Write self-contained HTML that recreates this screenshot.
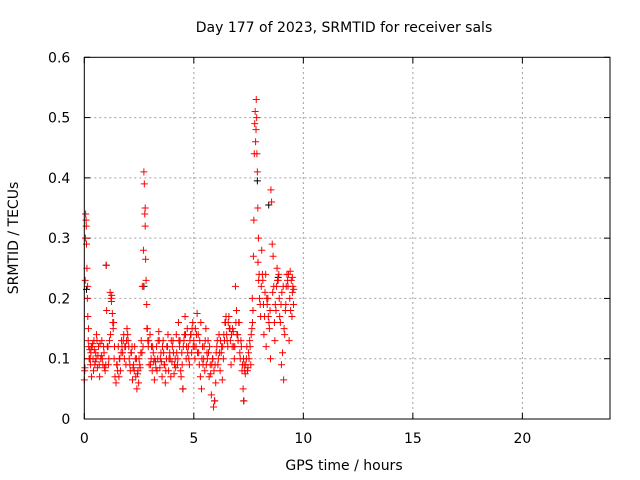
<!DOCTYPE html>
<html><head><meta charset="utf-8"><style>
html,body{margin:0;padding:0;background:#fff;}
svg{display:block;font-family:"DejaVu Sans","Liberation Sans",sans-serif;}
</style></head><body>
<svg id="chart" width="640" height="480">
<rect x="0" y="0" width="640" height="480" fill="#fff"/>
<text x="344" y="32" font-size="14" text-anchor="middle">Day 177 of 2023, SRMTID for receiver sals</text>
<text x="344" y="470" font-size="14" text-anchor="middle">GPS time / hours</text>
<text x="0" y="0" font-size="14" text-anchor="middle" transform="translate(18,238) rotate(-90)">SRMTID / TECUs</text>
<g id="grid"></g>
<g id="ticks"></g>
<g id="black"></g>
<g id="red"></g>
<rect x="84.3" y="57.3" width="525.7" height="361.7" fill="none" stroke="#000" stroke-width="1"/>
</svg>
<script>
const xTicks=[0,5,10,15,20];
const yTicks=[0,0.1,0.2,0.3,0.4,0.5,0.6];
const yTickLabels=["0","0.1","0.2","0.3","0.4","0.5","0.6"];
const redHours=[0.00,0.02,0.04,0.06,0.08,0.10,0.12,0.14,0.16,0.18,0.20,0.22,0.25,0.28,0.30,0.33,0.36,0.40,0.44,0.48,0.52,0.56,0.60,0.65,0.70,0.75,0.80,0.85,0.90,0.95,1.00,1.02,1.05,1.10,1.15,1.18,1.22,1.25,1.28,1.32,1.36,1.40,1.45,1.50,1.55,1.60,1.65,1.70,1.75,1.80,1.85,1.90,1.95,2.00,2.05,2.10,2.15,2.20,2.25,2.30,2.35,2.40,2.45,2.50,2.55,2.60,2.65,2.70,2.72,2.74,2.76,2.78,2.80,2.82,2.85,2.88,2.92,2.96,3.00,3.05,3.10,3.15,3.20,3.25,3.30,3.35,3.40,3.45,3.50,3.55,3.60,3.65,3.70,3.75,3.80,3.85,3.90,3.95,4.00,4.05,4.10,4.15,4.20,4.25,4.30,4.35,4.40,4.45,4.50,4.55,4.60,4.65,4.70,4.75,4.80,4.85,4.90,4.95,5.00,5.05,5.10,5.15,5.20,5.25,5.30,5.35,5.40,5.45,5.50,5.55,5.60,5.65,5.70,5.75,5.80,5.85,5.90,5.95,6.00,6.05,6.10,6.15,6.20,6.25,6.30,6.35,6.40,6.45,6.50,6.55,6.60,6.65,6.70,6.75,6.80,6.85,6.90,6.95,7.00,7.05,7.10,7.15,7.20,7.25,7.28,7.30,7.35,7.40,7.45,7.50,7.55,7.60,7.65,7.70,7.72,7.74,7.76,7.78,7.80,7.82,7.85,7.87,7.90,7.92,7.95,7.98,8.00,8.05,8.10,8.15,8.20,8.25,8.30,8.35,8.40,8.45,8.50,8.52,8.55,8.58,8.62,8.65,8.70,8.75,8.80,8.85,8.90,8.95,9.00,9.05,9.10,9.15,9.20,9.25,9.30,9.35,9.40,9.45,9.50,9.55];
const redValues=[0.065,0.08,0.23,0.34,0.33,0.29,0.25,0.20,0.17,0.13,0.12,0.10,0.115,0.09,0.11,0.07,0.12,0.10,0.13,0.09,0.11,0.14,0.085,0.12,0.07,0.10,0.13,0.09,0.11,0.08,0.255,0.18,0.12,0.09,0.13,0.21,0.20,0.205,0.175,0.15,0.10,0.07,0.06,0.09,0.12,0.10,0.08,0.13,0.11,0.14,0.12,0.09,0.15,0.13,0.10,0.08,0.11,0.065,0.09,0.12,0.07,0.05,0.08,0.10,0.085,0.13,0.22,0.28,0.41,0.39,0.34,0.32,0.265,0.23,0.19,0.15,0.12,0.09,0.14,0.10,0.08,0.11,0.065,0.095,0.12,0.10,0.145,0.085,0.11,0.07,0.13,0.09,0.06,0.10,0.12,0.08,0.11,0.07,0.095,0.13,0.075,0.10,0.14,0.09,0.16,0.12,0.08,0.11,0.05,0.13,0.17,0.10,0.15,0.12,0.09,0.14,0.11,0.16,0.13,0.10,0.12,0.175,0.14,0.09,0.07,0.05,0.12,0.10,0.08,0.15,0.11,0.13,0.07,0.09,0.04,0.10,0.02,0.03,0.06,0.12,0.09,0.14,0.08,0.11,0.065,0.10,0.13,0.16,0.14,0.12,0.17,0.15,0.09,0.12,0.145,0.10,0.22,0.18,0.14,0.16,0.11,0.13,0.08,0.05,0.03,0.09,0.075,0.10,0.08,0.11,0.13,0.09,0.15,0.18,0.27,0.33,0.44,0.49,0.51,0.46,0.53,0.50,0.41,0.35,0.30,0.24,0.20,0.17,0.28,0.23,0.14,0.21,0.12,0.19,0.17,0.15,0.10,0.38,0.36,0.29,0.27,0.22,0.13,0.18,0.25,0.23,0.20,0.16,0.09,0.11,0.065,0.14,0.19,0.24,0.22,0.13,0.245,0.23,0.21,0.19];
const redHours2=[0.05,0.15,0.27,0.38,0.50,0.62,0.72,0.82,0.92,1.08,1.20,1.34,1.48,1.58,1.68,1.78,1.88,1.98,2.08,2.18,2.28,2.38,2.48,2.58,2.68,2.90,3.02,3.12,3.22,3.32,3.42,3.52,3.62,3.72,3.82,3.92,4.02,4.12,4.22,4.32,4.42,4.52,4.62,4.72,4.82,4.92,5.02,5.12,5.22,5.32,5.42,5.52,5.62,5.72,5.82,5.92,6.02,6.12,6.22,6.32,6.42,6.52,6.62,6.72,6.82,6.92,7.02,7.12,7.22,7.32,7.42,7.52,7.62,7.68,7.88,7.96,8.08,8.18,8.28,8.38,8.48,8.68,8.78,8.88,8.98,9.08,9.18,9.28,9.38,9.48,9.52];
const redValues2=[0.30,0.22,0.10,0.125,0.095,0.105,0.125,0.10,0.085,0.12,0.14,0.16,0.09,0.07,0.11,0.13,0.12,0.14,0.09,0.12,0.08,0.10,0.06,0.11,0.12,0.13,0.09,0.12,0.10,0.08,0.13,0.095,0.11,0.08,0.14,0.10,0.12,0.09,0.11,0.13,0.07,0.12,0.14,0.11,0.13,0.15,0.12,0.14,0.11,0.16,0.09,0.13,0.10,0.12,0.09,0.08,0.11,0.10,0.13,0.12,0.16,0.13,0.15,0.14,0.12,0.16,0.13,0.10,0.09,0.08,0.12,0.10,0.14,0.16,0.44,0.23,0.22,0.19,0.24,0.20,0.18,0.16,0.22,0.24,0.19,0.22,0.18,0.23,0.20,0.17,0.22,0.20];
const redHours3=[0.03,0.09,0.19,0.24,0.32,0.42,0.46,0.54,0.58,0.68,0.78,0.88,0.98,1.12,1.24,1.30,1.38,1.52,1.62,1.72,1.83,1.93,2.03,2.13,2.23,2.33,2.43,2.53,2.63,2.78,2.86,2.94,3.07,3.17,3.27,3.37,3.47,3.57,3.67,3.77,3.87,3.97,4.07,4.17,4.27,4.37,4.47,4.57,4.67,4.77,4.87,4.97,5.07,5.17,5.27,5.37,5.47,5.57,5.67,5.77,5.87,5.97,6.07,6.17,6.27,6.37,6.47,6.57,6.67,6.77,6.87,6.97,7.07,7.17,7.27,7.37,7.47,7.57,7.67,7.84,7.93,8.03,8.13,8.23,8.33,8.43,8.60,8.72,8.82,8.92,9.02,9.12,9.22,9.32,9.42,9.50,9.56];
const redValues3=[0.085,0.32,0.15,0.10,0.12,0.08,0.115,0.10,0.13,0.09,0.105,0.12,0.09,0.10,0.195,0.16,0.12,0.08,0.10,0.12,0.10,0.13,0.12,0.11,0.085,0.10,0.075,0.09,0.11,0.35,0.15,0.13,0.12,0.095,0.085,0.13,0.10,0.12,0.09,0.12,0.10,0.13,0.11,0.085,0.10,0.13,0.09,0.14,0.12,0.10,0.14,0.12,0.15,0.11,0.13,0.10,0.12,0.09,0.11,0.075,0.10,0.09,0.13,0.11,0.12,0.14,0.17,0.16,0.13,0.15,0.12,0.14,0.16,0.12,0.10,0.09,0.085,0.12,0.20,0.48,0.26,0.19,0.24,0.17,0.20,0.16,0.21,0.19,0.23,0.17,0.21,0.15,0.22,0.24,0.18,0.235,0.215];
const blackHours=[0.10,1.00,2.72,5.95,7.90,8.42,8.85,7.28,4.50];
const blackValues=[0.215,0.255,0.22,0.03,0.395,0.355,0.235,0.03,0.05];

const X0=84.3,X1=610,Y0=419,Y1=57.3,XMAX=24,YMAX=0.6;
function xs(h){return X0+(X1-X0)*h/XMAX;}
function ys(v){return Y0-(Y0-Y1)*v/YMAX;}
const NS="http://www.w3.org/2000/svg";
function mk(tag,attrs,parent){const e=document.createElementNS(NS,tag);for(const k in attrs)e.setAttribute(k,attrs[k]);parent.appendChild(e);return e;}
const grid=document.getElementById('grid'),ticks=document.getElementById('ticks');
xTicks.forEach((t,i)=>{
  const x=xs(t);
  if(t>0){const g=mk('line',{x1:x,x2:x,y1:Y0,y2:Y1,stroke:'#a0a0a0','stroke-dasharray':'2,3','stroke-width':1},grid);
  
  }
  mk('line',{x1:x,x2:x,y1:Y0,y2:Y0-6,stroke:'#000'},ticks);
  mk('line',{x1:x,x2:x,y1:Y1,y2:Y1+6,stroke:'#000'},ticks);
  const l=mk('text',{x:x,y:Y0+24,'font-size':14,'text-anchor':'middle'},ticks);
  l.textContent=String(t);
  
  
});
yTicks.forEach((t,i)=>{
  const y=ys(t);
  if(t>0&&t<YMAX){const g=mk('line',{x1:X0,x2:X1,y1:y,y2:y,stroke:'#a0a0a0','stroke-dasharray':'2,3','stroke-width':1},grid);
  
  }
  mk('line',{x1:X0,x2:X0+6,y1:y,y2:y,stroke:'#000'},ticks);
  mk('line',{x1:X1,x2:X1-6,y1:y,y2:y,stroke:'#000'},ticks);
  const l=mk('text',{x:X0-14,y:y+5,'font-size':14,'text-anchor':'end'},ticks);
  l.textContent=yTickLabels[i];
  
  
});
function plus(h,v,color,parent){
  const x=xs(h),y=ys(v);
  const p=mk('path',{d:`M${x-3.5} ${y}H${x+3.5}M${x} ${y-3.5}V${y+3.5}`,stroke:color,'stroke-width':1,fill:'none'},parent);
  
  
}
const bG=document.getElementById('black'),rG=document.getElementById('red');
blackHours.forEach((h,i)=>plus(h,blackValues[i],'#000',bG));
redHours.forEach((h,i)=>plus(h,redValues[i],'#ff0000',rG));
redHours2.forEach((h,i)=>plus(h,redValues2[i],'#ff0000',rG));
redHours3.forEach((h,i)=>plus(h,redValues3[i],'#ff0000',rG));
</script>
</body></html>
